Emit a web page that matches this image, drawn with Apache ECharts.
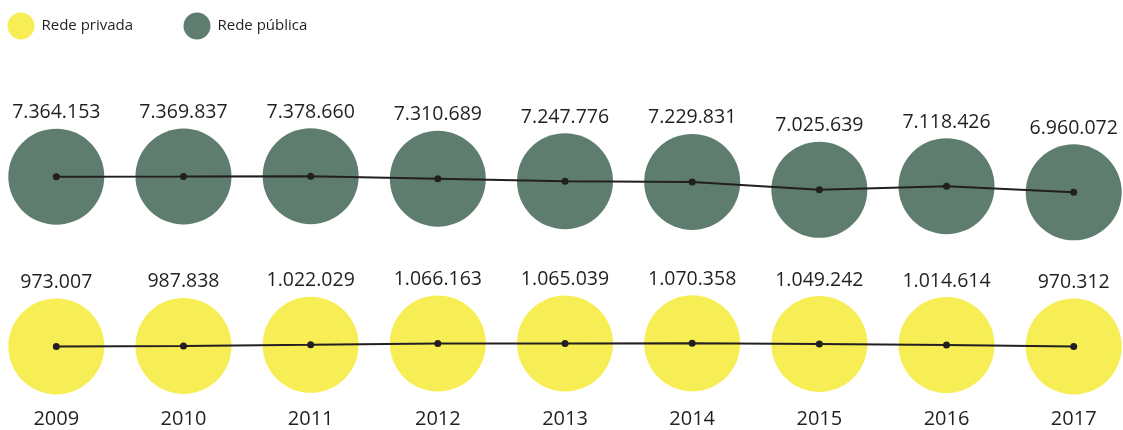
<!DOCTYPE html>
<html>
<head>
<meta charset="utf-8">
<script src="https://cdn.jsdelivr.net/npm/echarts@6/dist/echarts.min.js"></script>
<style>
html,body{margin:0;padding:0;background:#fff;}
#chart{width:1123px;height:430px;}
</style>
</head>
<body>
<div id="chart"></div>
<script>
var years = ['2009','2010','2011','2012','2013','2014','2015','2016','2017'];
var redePublica = [7364153, 7369837, 7378660, 7310689, 7247776, 7229831, 7025639, 7118426, 6960072];
var redePrivada = [973007, 987838, 1022029, 1066163, 1065039, 1070358, 1049242, 1014614, 970312];

var colorPublica = '#5f7d6f';
var colorPrivada = '#f7ee55';
var ink = '#231f20';
var fontFam = '"Open Sans", "Noto Sans", sans-serif';

function fmt(v) {
  return String(v).replace(/\B(?=(\d{3})+(?!\d))/g, '.');
}

var chart = echarts.init(document.getElementById('chart'), null, {renderer: 'canvas'});

var valueLabel = {
  show: true,
  position: 'top',
  distance: 6,
  color: ink,
  fontFamily: fontFam,
  fontSize: 19.5,
  lineHeight: 20,
  formatter: function (p) { return fmt(p.value); }
};

var option = {
  animation: false,
  backgroundColor: '#ffffff',
  textStyle: {fontFamily: fontFam},
  legend: [
    {
      data: [{name: 'Rede privada', icon: 'circle'}],
      left: 7.5, top: 12.5, padding: 0,
      itemWidth: 27, itemHeight: 27,
      textStyle: {color: ink, fontSize: 15, fontFamily: fontFam, padding: [0,0,0,2]},
      selectedMode: false
    },
    {
      data: [{name: 'Rede pública', icon: 'circle'}],
      left: 183.5, top: 12.5, padding: 0,
      itemWidth: 27, itemHeight: 27,
      textStyle: {color: ink, fontSize: 15, fontFamily: fontFam, padding: [0,0,0,2]},
      selectedMode: false
    }
  ],
  grid: [
    {left: 56.3, right: 49.3, top: 167.6, height: 30.9},
    {left: 56.3, right: 49.3, top: 339.2, height: 12.7}
  ],
  xAxis: [
    {
      gridIndex: 0, type: 'category', data: years, boundaryGap: false,
      axisLine: {show: false}, axisTick: {show: false}, axisLabel: {show: false},
      splitLine: {show: false}
    },
    {
      gridIndex: 1, type: 'category', data: years, boundaryGap: false,
      axisLine: {show: false}, axisTick: {show: false},
      axisLabel: {show: true, margin: 57, color: ink, fontSize: 20, lineHeight: 20, fontFamily: fontFam},
      splitLine: {show: false}
    }
  ],
  yAxis: [
    {
      gridIndex: 0, type: 'value', min: 6800000, max: 7600000,
      show: false, splitLine: {show: false}
    },
    {
      gridIndex: 1, type: 'value', min: 800000, max: 1200000,
      show: false, splitLine: {show: false}
    }
  ],
  series: [
    {
      name: 'Rede pública', type: 'scatter', xAxisIndex: 0, yAxisIndex: 0,
      data: redePublica, symbol: 'circle', symbolSize: 96,
      itemStyle: {color: colorPublica, opacity: 1},
      label: valueLabel, z: 2, silent: true
    },
    {
      name: 'publicaLine', type: 'line', xAxisIndex: 0, yAxisIndex: 0,
      data: redePublica, symbol: 'circle', symbolSize: 7, showSymbol: true,
      itemStyle: {color: ink}, lineStyle: {color: ink, width: 2},
      label: {show: false}, z: 5, silent: true
    },
    {
      name: 'Rede privada', type: 'scatter', xAxisIndex: 1, yAxisIndex: 1,
      data: redePrivada, symbol: 'circle', symbolSize: 96,
      itemStyle: {color: colorPrivada, opacity: 1},
      label: valueLabel, z: 2, silent: true
    },
    {
      name: 'privadaLine', type: 'line', xAxisIndex: 1, yAxisIndex: 1,
      data: redePrivada, symbol: 'circle', symbolSize: 7, showSymbol: true,
      itemStyle: {color: ink}, lineStyle: {color: ink, width: 2},
      label: {show: false}, z: 5, silent: true
    }
  ]
};

chart.setOption(option);
</script>
</body>
</html>
